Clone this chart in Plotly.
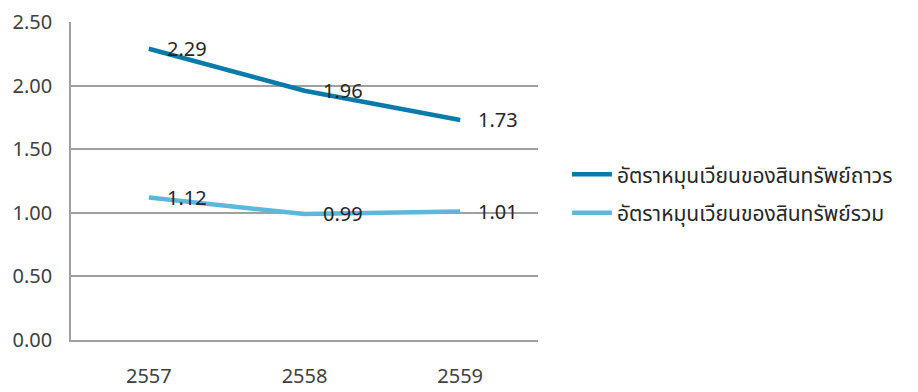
import plotly.graph_objects as go

years = ["2557", "2558", "2559"]
fixed_asset_turnover = [2.29, 1.96, 1.73]
total_asset_turnover = [1.12, 0.99, 1.01]
series_names = ["อัตราหมุนเวียนของสินทรัพย์ถาวร", "อัตราหมุนเวียนของสินทรัพย์รวม"]
series_colors = ["#0a7aa8", "#5db7da"]

font_family = "Noto Sans Thai, Noto Sans, sans-serif"
font_size = 20

fig = go.Figure()
annotations = []
for k, (name, vals, color) in enumerate(zip(series_names, [fixed_asset_turnover, total_asset_turnover], series_colors)):
    fig.add_trace(go.Scatter(
        x=years, y=vals, mode="lines", name=name, legendgroup=f"g{k}",
        line=dict(color=color, width=4.5),
    ))
    # value labels to the right of each point (category index as x)
    for i, v in enumerate(vals):
        annotations.append(dict(
            x=i, y=v, xref="x", yref="y", text=f"{v:.2f}",
            showarrow=False, xanchor="left", yanchor="middle", xshift=16, yshift=-1,
            font=dict(size=font_size, color="#262626", family=font_family),
        ))

fig.update_layout(
    width=918, height=392,
    margin=dict(l=71, r=380, t=22, b=52),
    paper_bgcolor="white", plot_bgcolor="white",
    font=dict(family=font_family, size=font_size, color="#404040"),
    showlegend=True,
    legend=dict(
        x=1.062, y=0.46, xanchor="left", yanchor="middle",
        font=dict(size=21, color="#262626"),
        itemwidth=40, tracegroupgap=8,
        bgcolor="rgba(0,0,0,0)",
    ),
    annotations=annotations,
)
fig.update_xaxes(
    type="category", range=[-0.5, 2.5], automargin=False,
    showline=True, linecolor="#a0a0a0", linewidth=1.5,
    showgrid=False, ticks="", ticklabelstandoff=17,
    tickfont=dict(size=font_size, color="#404040"),
)
fig.update_yaxes(
    range=[0, 2.5], dtick=0.5, tickformat=".2f", automargin=False,
    showline=True, linecolor="#a0a0a0", linewidth=1.5,
    gridcolor="#a0a0a0", gridwidth=1.5, zeroline=False,
    ticks="", ticklabelstandoff=13,
    tickfont=dict(size=font_size, color="#404040"),
)

fig.write_html("out.html")
